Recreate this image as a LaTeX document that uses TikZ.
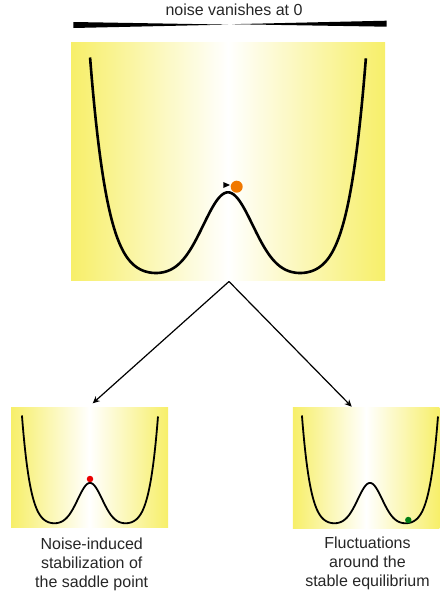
\documentclass[tikz,border=0pt]{standalone}
\usepackage{fontspec}
\setmainfont{Liberation Sans}
\usetikzlibrary{arrows.meta}
\definecolor{wellyellow}{RGB}{247,239,105}
\definecolor{ballorange}{RGB}{240,120,0}
\definecolor{ballred}{RGB}{235,0,0}
\definecolor{ballgreen}{RGB}{0,125,20}
\begin{document}
\begin{tikzpicture}[x=1pt,y=-1pt,
  panel/.style={left color=wellyellow,right color=wellyellow,middle color=white,
    inner sep=0pt,outer sep=0pt},
  bigcurve/.style={line width=2.6pt,black,line join=round},
  smallcurve/.style={line width=1.8pt,black,line join=round},
  lbl/.style={font=\fontsize{16}{19}\selectfont,inner sep=0pt,text=black!85},
  arr/.style={line width=1.2pt,-{Stealth[length=7pt,width=6.5pt,inset=2.2pt]}},
  ball/.style={circle,inner sep=0pt,outer sep=0pt}]
\useasboundingbox (0,0) rectangle (440,597);
% wedge bar and title
\fill[black] (73.3,22) -- (73.3,28) -- (228,24.6) -- cycle;
\fill[black] (386.7,20.7) -- (386.7,26.7) -- (232,24.2) -- cycle;
\node[lbl,anchor=base] (title) at (234,15) {noise vanishes at 0};
% panels
\node[panel,minimum width=314pt,minimum height=238pt] (top) at (228,161) {};
\node[panel,minimum width=157pt,minimum height=120pt] (sad) at (89.5,467) {};
\node[panel,minimum width=146.5pt,minimum height=121pt] (stab) at (366.2,467.5) {};
% big potential
\draw[bigcurve] plot[domain=-1.815:1.815,samples=241,variable=\t,smooth]
  ({228+76*\t},{273.5-(83*exp(-(\t)*(\t)/0.21)+1.85*((\t)*(\t)*(\t)*(\t)*(\t)*(\t)*(\t)*(\t)-1))});
\fill[black] (223.3,182) -- (230,185) -- (223.3,188) -- cycle;
\node[ball,fill=ballorange,minimum size=12pt] (orange) at (236.7,186.7) {};
% small potentials
\draw[smallcurve] plot[domain=-1.815:1.815,samples=161,variable=\t,smooth]
  ({90+37.5*\t},{523.5-0.5*(83*exp(-(\t)*(\t)/0.21)+1.85*((\t)*(\t)*(\t)*(\t)*(\t)*(\t)*(\t)*(\t)-1))});
\draw[smallcurve] plot[domain=-1.815:1.815,samples=161,variable=\t,smooth]
  ({370+37.5*\t},{523.5-0.5*(83*exp(-(\t)*(\t)/0.21)+1.85*((\t)*(\t)*(\t)*(\t)*(\t)*(\t)*(\t)*(\t)-1))});
\node[ball,fill=ballred,minimum size=6.5pt] (red) at (90,479) {};
\node[ball,fill=ballgreen,minimum size=6.5pt] (green) at (408.3,520) {};
% arrows
\coordinate (fork) at (229,281.5);
\draw[arr] (fork) -- ([xshift=3.2pt,yshift=3.7pt]sad.north);
\draw[arr] (fork) -- ([xshift=-14.5pt,yshift=0.3pt]stab.north);
% captions
\node[lbl,align=center,anchor=north] (cap1) at (91.7,537.3) {Noise-induced\\stabilization of\\the saddle point};
\node[lbl,align=center,anchor=north] (cap2) at (367.5,536.6) {Fluctuations\\around the\\stable equilibrium};
\end{tikzpicture}
\end{document}
